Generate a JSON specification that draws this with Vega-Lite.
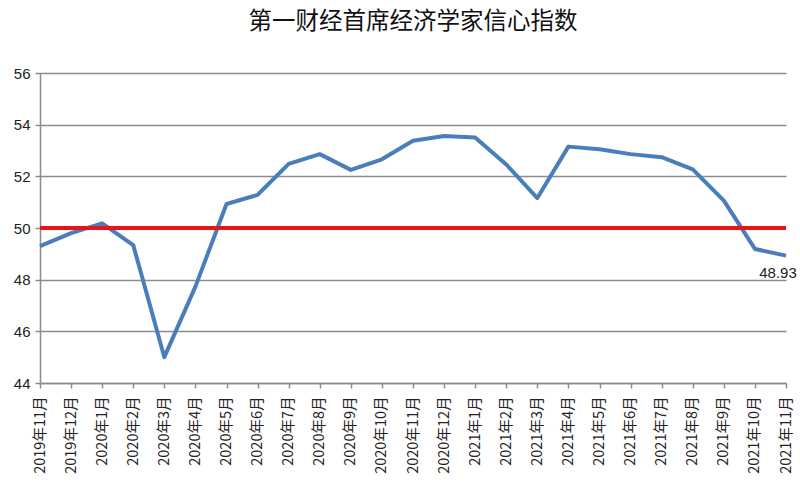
{
  "$schema": "https://vega.github.io/schema/vega-lite/v6.json",
  "autosize": "none",
  "width": 746,
  "height": 310,
  "padding": {"left": 40, "top": 73, "right": 14, "bottom": 102},
  "background": "white",
  "title": {
    "text": "第一财经首席经济学家信心指数",
    "font": "Noto Sans CJK SC",
    "fontSize": 23.5,
    "fontWeight": "normal",
    "color": "#111111",
    "anchor": "middle",
    "offset": 33
  },
  "config": {
    "view": {"stroke": null},
    "axis": {"domainColor": "#8c8c8c", "tickColor": "#8c8c8c", "gridColor": "#8c8c8c", "labelColor": "#222222"}
  },
  "data": {
    "values": [
      {"month": "2019年11月", "value": 49.30},
      {"month": "2019年12月", "value": 49.80},
      {"month": "2020年1月", "value": 50.18},
      {"month": "2020年2月", "value": 49.34},
      {"month": "2020年3月", "value": 45.00},
      {"month": "2020年4月", "value": 47.73},
      {"month": "2020年5月", "value": 50.93},
      {"month": "2020年6月", "value": 51.28},
      {"month": "2020年7月", "value": 52.48},
      {"month": "2020年8月", "value": 52.86},
      {"month": "2020年9月", "value": 52.25},
      {"month": "2020年10月", "value": 52.66},
      {"month": "2020年11月", "value": 53.38},
      {"month": "2020年12月", "value": 53.56},
      {"month": "2021年1月", "value": 53.50},
      {"month": "2021年2月", "value": 52.46},
      {"month": "2021年3月", "value": 51.16},
      {"month": "2021年4月", "value": 53.15},
      {"month": "2021年5月", "value": 53.05},
      {"month": "2021年6月", "value": 52.86},
      {"month": "2021年7月", "value": 52.74},
      {"month": "2021年8月", "value": 52.27},
      {"month": "2021年9月", "value": 51.06},
      {"month": "2021年10月", "value": 49.19},
      {"month": "2021年11月", "value": 48.93}
    ]
  },
  "encoding": {
    "x": {
      "field": "month",
      "type": "nominal",
      "sort": null,
      "scale": {"type": "point", "padding": 0},
      "axis": {
        "title": null,
        "labelAngle": -90,
        "labelFont": "Noto Sans CJK SC",
        "labelFontSize": 14.5,
        "labelPadding": 8,
        "tickSize": 5,
        "domainWidth": 1.5,
        "tickWidth": 1.5,
        "grid": false
      }
    },
    "y": {
      "field": "value",
      "type": "quantitative",
      "scale": {"domain": [44, 56], "nice": false, "zero": false},
      "axis": {
        "title": null,
        "values": [44, 46, 48, 50, 52, 54, 56],
        "labelFont": "Liberation Sans",
        "labelFontSize": 15,
        "labelPadding": 5,
        "tickSize": 5,
        "domainWidth": 1.5,
        "tickWidth": 1.5,
        "gridWidth": 1.5
      }
    }
  },
  "layer": [
    {
      "mark": {"type": "line", "color": "#4a7ebb", "strokeWidth": 4, "strokeJoin": "round"}
    },
    {
      "mark": {"type": "rule", "color": "#e8141b", "strokeWidth": 3},
      "encoding": {"x": null, "y": {"datum": 50}}
    },
    {
      "transform": [{"filter": "datum.month === '2021年11月'"}],
      "mark": {"type": "text", "font": "Liberation Sans", "fontSize": 15, "color": "#222222", "align": "center", "baseline": "top", "dx": -8, "dy": 10},
      "encoding": {"text": {"field": "value", "type": "quantitative", "format": ".2f"}}
    }
  ]
}
